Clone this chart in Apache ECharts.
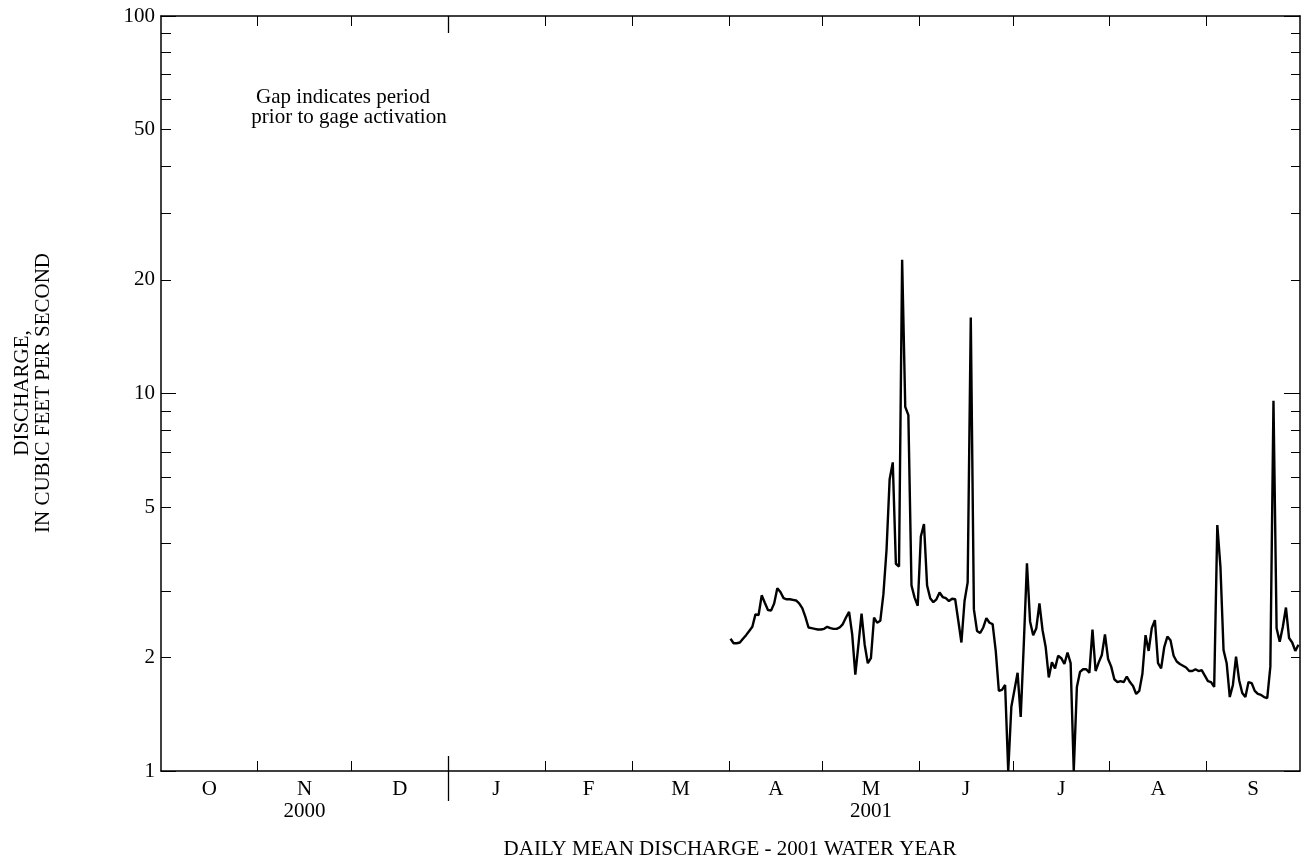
<!DOCTYPE html>
<html>
<head>
<meta charset="utf-8">
<script src="https://cdn.jsdelivr.net/npm/echarts@6/dist/echarts.min.js"></script>
<style>
html,body{margin:0;padding:0;background:#fff;}
#chart{width:1307px;height:866px;}
</style>
</head>
<body>
<div id="chart"></div>
<script>
// ---- DATA ----
const monthLetters = ['O','N','D','J','F','M','A','M','J','J','A','S'];
const monthDays = [31,30,31,31,28,31,30,31,30,31,31,30];
const yearLabels = ['2000','2001'];
const yearLabelMonths = [1, 7];          // month index under which each year label sits
const yTickLabels = [1,2,5,10,20,50,100];
const yMajorTicks = [1,10,100];
const yMinorTicks = [2,3,4,5,6,7,8,9,20,30,40,50,60,70,80,90];
const firstDataDay = 182;                // April 1, 2001 (day index from Oct 1, 2000)
// Daily mean discharge, ft3/s, April 1 - September 30, 2001
const discharge = [
  2.24,2.18,2.18,2.19,2.24,2.29,2.35,2.41,
  2.60,2.59,2.92,2.79,2.67,2.66,2.78,3.05,2.98,2.87,
  2.85,2.85,2.84,2.83,2.78,2.70,2.56,2.40,2.39,2.38,
  2.37,2.37,2.38,2.41,2.39,2.38,2.38,2.40,2.45,2.55,
  2.64,2.30,1.80,2.16,2.61,2.16,1.93,1.99,2.55,2.47,
  2.50,2.94,3.85,5.93,6.57,3.54,3.48,22.6,9.22,8.76,
  3.10,2.88,2.74,4.18,4.51,3.10,2.87,2.80,2.85,2.97,
  2.89,2.87,2.82,2.86,2.85,2.50,2.19,2.82,3.16,15.9,
  2.68,2.35,2.32,2.40,2.54,2.47,2.45,2.08,1.63,1.64,
  1.69,1.00,1.48,1.64,1.82,1.39,2.18,3.55,2.49,2.29,
  2.39,2.78,2.36,2.13,1.77,1.94,1.87,2.02,1.99,1.92,
  2.06,1.93,1.00,1.67,1.83,1.86,1.86,1.82,2.37,1.84,
  1.94,2.03,2.30,1.98,1.89,1.75,1.72,1.73,1.72,1.78,
  1.72,1.68,1.60,1.63,1.81,2.29,2.08,2.39,2.51,1.93,
  1.87,2.13,2.27,2.22,2.02,1.95,1.92,1.90,1.88,1.84,
  1.84,1.86,1.84,1.85,1.79,1.73,1.72,1.67,4.48,3.48,
  2.09,1.93,1.57,1.69,2.01,1.74,1.61,1.57,1.72,1.71,
  1.63,1.60,1.59,1.57,1.56,1.89,9.57,2.39,2.20,2.41,
  2.71,2.25,2.19,2.08,2.16
];

// ---- derived ----
const boundaries = [0];
monthDays.forEach(d => boundaries.push(boundaries[boundaries.length-1] + d));
const totalDays = boundaries[boundaries.length-1];
const innerBounds = boundaries.slice(1, -1);
const monthCenters = monthDays.map((d,i) => boundaries[i] + d/2);
const janBound = [boundaries[3]];
const yearCenters = yearLabelMonths.map(i => monthCenters[i]);
const seriesData = discharge.map((v,i) => [firstDataDay + i + 0.5, v]);

const FONT = 'Liberation Serif';
const FS = 21;
const black = '#000';

function xBase(extra) {
  return Object.assign({
    type: 'value', min: 0, max: totalDays, gridIndex: 0,
    splitLine: {show:false},
    axisLine: {show:false, onZero:false},
    axisTick: {show:false},
    axisLabel: {show:false}
  }, extra);
}
function yBase(extra) {
  return Object.assign({
    type: 'log', logBase: 10, min: 1, max: 100,
    splitLine: {show:false},
    axisLine: {show:false, onZero:false},
    axisTick: {show:false},
    axisLabel: {show:false}
  }, extra);
}
const lineOn = {show:true, onZero:false, lineStyle:{color:black, width:1.5}};

const chart = echarts.init(document.getElementById('chart'), null, {renderer:'canvas'});
chart.setOption({
  backgroundColor: '#fff',
  animation: false,
  grid: {left:161, right:7, top:16, bottom:95, containLabel:false},
  xAxis: [
    xBase({position:'bottom',
      axisLine: lineOn,
      axisTick:{show:true, inside:true, length:10, customValues: innerBounds, lineStyle:{color:black,width:1}},
      axisLabel:{show:true, customValues: monthCenters, margin:8, color:black, fontFamily:FONT, fontSize:FS,
        formatter: v => { for (let i=0;i<monthCenters.length;i++) if (Math.abs(monthCenters[i]-v)<1e-6) return monthLetters[i]; return ''; }}
    }),
    xBase({position:'top',
      axisLine: lineOn,
      axisTick:{show:true, inside:true, length:10, customValues: innerBounds, lineStyle:{color:black,width:1}}
    }),
    xBase({position:'bottom',
      axisTick:{show:true, inside:false, length:30, customValues: janBound, lineStyle:{color:black,width:1.3}},
      axisLabel:{show:true, customValues: yearCenters, margin:30, color:black, fontFamily:FONT, fontSize:FS,
        formatter: v => { for (let i=0;i<yearCenters.length;i++) if (Math.abs(yearCenters[i]-v)<1e-6) return yearLabels[i]; return ''; }}
    }),
    xBase({position:'bottom',
      axisTick:{show:true, inside:true, length:15, customValues: janBound, lineStyle:{color:black,width:1.3}}
    }),
    xBase({position:'top',
      axisTick:{show:true, inside:true, length:17, customValues: janBound, lineStyle:{color:black,width:1.3}}
    })
  ],
  yAxis: [
    yBase({position:'left',
      axisLine: lineOn,
      axisTick:{show:true, inside:true, length:10, customValues: yMinorTicks, lineStyle:{color:black,width:1}},
      axisLabel:{show:true, customValues: yTickLabels, margin:6, color:black, fontFamily:FONT, fontSize:FS}
    }),
    yBase({position:'left',
      axisTick:{show:true, inside:true, length:15, customValues: yMajorTicks, lineStyle:{color:black,width:1}}
    }),
    yBase({position:'right',
      axisLine: lineOn,
      axisTick:{show:true, inside:true, length:9, customValues: yMinorTicks, lineStyle:{color:black,width:1}}
    }),
    yBase({position:'right',
      axisTick:{show:true, inside:true, length:16, customValues: yMajorTicks, lineStyle:{color:black,width:1}}
    })
  ],
  series: [{
    type:'line', xAxisIndex:0, yAxisIndex:0,
    data: seriesData, showSymbol:false, symbol:'none',
    lineStyle:{color:black, width:2.4}, clip:true
  }],
  graphic: [
    {type:'text', x:343, y:97, style:{text:'Gap indicates period', fontFamily:FONT, fontSize:FS, fill:black, align:'center', verticalAlign:'middle'}},
    {type:'text', x:349, y:117, style:{text:'prior to gage activation', fontFamily:FONT, fontSize:FS, fill:black, align:'center', verticalAlign:'middle'}},
    {type:'text', x:730, y:849, style:{text:'DAILY MEAN DISCHARGE - 2001 WATER YEAR', fontFamily:FONT, fontSize:FS, fill:black, align:'center', verticalAlign:'middle'}},
    {type:'text', x:33, y:393, rotation: Math.PI/2,
      style:{text:'DISCHARGE,\nIN CUBIC FEET PER SECOND', fontFamily:FONT, fontSize:FS, lineHeight:21, fill:black, align:'center', verticalAlign:'middle'}}
  ]
});
</script>
</body>
</html>
